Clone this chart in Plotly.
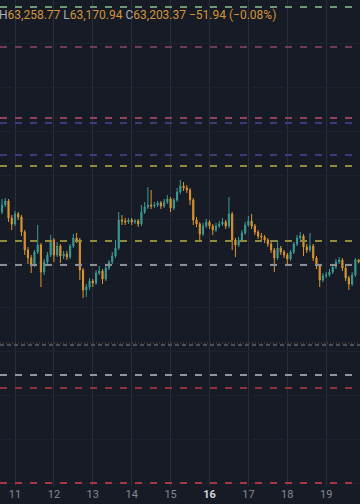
import plotly.graph_objects as go
import pandas as pd

# ---------------- data ----------------
start = pd.Timestamp("2024-09-10 14:00")
n_candles = 112
times = [start + pd.Timedelta(hours=2 * i) for i in range(n_candles)]

opens = [64300, 64450, 64625, 64725, 64300, 64150, 64400, 64325, 63950, 63500,
         63300, 63150, 63450, 63625, 62950, 63200, 63375, 63750, 63375, 63600,
         63350, 63400, 63325, 63600, 63800, 63750, 63000, 62500, 62575, 62725,
         62675, 62925, 62975, 62775, 63050, 63200, 63350, 63550, 64250, 64225,
         64200, 64250, 64200, 64225, 64150, 64450, 64575, 64625, 64600, 64625,
         64675, 64600, 64700, 64775, 64550, 64750, 64950, 65100, 65050, 65000,
         64750, 64250, 64150, 63900, 64100, 64200, 64100, 64000, 64100, 64150,
         64200, 64100, 64400, 63750, 63625, 63750, 63925, 64125, 64225, 64100,
         63950, 63850, 63825, 63750, 63650, 63500, 63300, 63550, 63450, 63375,
         63275, 63450, 63650, 63800, 63850, 63575, 63500, 63600, 63300, 63100,
         62750, 62850, 62875, 62950, 63075, 63200, 63250, 63050, 62800, 62650,
         62875, 63255.31]
closes = [64450, 64625, 64725, 64300, 64150, 64400, 64325, 63950, 63500, 63300,
          63150, 63450, 63625, 62950, 63200, 63375, 63750, 63375, 63600, 63350,
          63400, 63325, 63600, 63800, 63750, 63000, 62500, 62575, 62725, 62675,
          62925, 62975, 62775, 63050, 63200, 63350, 63550, 64250, 64225, 64200,
          64250, 64200, 64225, 64150, 64450, 64575, 64625, 64600, 64625, 64675,
          64600, 64700, 64775, 64550, 64750, 64950, 65100, 65050, 65000, 64750,
          64250, 64150, 63900, 64100, 64200, 64100, 64000, 64100, 64150, 64200,
          64100, 64400, 63750, 63625, 63750, 63925, 64125, 64225, 64100, 63950,
          63850, 63825, 63750, 63650, 63500, 63300, 63550, 63450, 63375, 63275,
          63450, 63650, 63800, 63850, 63575, 63500, 63600, 63300, 63100, 62750,
          62850, 62875, 62950, 63075, 63200, 63250, 63050, 62800, 62650, 62875,
          63255.31, 63203.37]
highs = [64525, 64775, 64800, 64775, 64375, 64475, 64450, 64375, 64000, 63575,
         63375, 63500, 64125, 63675, 63275, 63450, 63875, 63800, 63700, 63650,
         63475, 63475, 63650, 63900, 63925, 63800, 63050, 62650, 62800, 62775,
         63000, 63100, 63025, 63100, 63250, 63450, 63750, 64450, 64375, 64300,
         64300, 64300, 64275, 64275, 64625, 64700, 65075, 65000, 64700, 64725,
         64725, 64775, 64875, 64825, 64800, 65050, 65250, 65200, 65125, 65050,
         64800, 64325, 64200, 64175, 64275, 64250, 64150, 64175, 64225, 64300,
         64250, 64825, 64450, 63800, 63825, 64000, 64200, 64350, 64400, 64150,
         64000, 63925, 63875, 63800, 63700, 63550, 63750, 63600, 63500, 63425,
         63500, 63700, 63875, 63950, 63900, 63650, 63925, 63650, 63350, 63150,
         62925, 62950, 63025, 63125, 63275, 63325, 63300, 63100, 62850, 62950,
         63300, 63258.77]
lows = [64225, 64400, 64575, 64200, 64000, 64100, 64250, 63850, 63375, 63150,
        62925, 63075, 63400, 62575, 62875, 63125, 63325, 63200, 63325, 63175,
        63275, 63250, 63275, 63550, 63675, 62750, 62300, 62325, 62500, 62575,
        62625, 62875, 62650, 62725, 63000, 63150, 63300, 63500, 64125, 64125,
        64150, 64125, 64150, 64075, 64100, 64400, 64525, 64525, 64550, 64575,
        64525, 64550, 64650, 64450, 64500, 64700, 64900, 64975, 64925, 64625,
        64125, 64075, 63750, 63850, 64050, 64025, 63875, 63950, 64050, 64100,
        64025, 64050, 63500, 63325, 63575, 63700, 63875, 64075, 64025, 63875,
        63775, 63750, 63675, 63575, 63425, 62950, 63250, 63375, 63300, 63125,
        63225, 63400, 63600, 63750, 63350, 63425, 63450, 63225, 63025, 62575,
        62700, 62800, 62825, 62900, 63025, 63150, 62975, 62725, 62500, 62600,
        62825, 63170.94]

level_prices = [69575, 68575, 66800, 66675, 65875, 65600, 63725, 63125,
                61175, 61125, 60375, 60050, 57675]

day_labels = ["11", "12", "13", "14", "15", "16", "17", "18", "19"]
day_ticks = [pd.Timestamp(f"2024-09-{d}") for d in day_labels]

# ---------------- style ----------------
BG = "#171b26"
UP = "#3a9a93"
DOWN = "#d9952f"
DASH = "7px,8px"
level_styles = [
    dict(color="#6e9a78", width=2, dash=DASH),
    dict(color="#6c3d55", width=2, dash=DASH),
    dict(color="#8f4258", width=2, dash=DASH),
    dict(color="#43387a", width=2, dash=DASH),
    dict(color="#43387a", width=2, dash=DASH),
    dict(color="#8f8a3e", width=2, dash=DASH),
    dict(color="#8f8a3e", width=2, dash=DASH),
    dict(color="#8c8f98", width=2, dash=DASH),
    dict(color="#5e4e35", width=1, dash="1px,2px"),
    dict(color="#4a4e59", width=2, dash="4px,3px"),
    dict(color="#92959d", width=2, dash=DASH),
    dict(color="#8e323b", width=2, dash=DASH),
    dict(color="#a6363f", width=2, dash=DASH),
]

fig = go.Figure()
fig.add_trace(go.Candlestick(
    x=times, open=opens, high=highs, low=lows, close=closes,
    increasing=dict(line=dict(color=UP, width=1), fillcolor=UP),
    decreasing=dict(line=dict(color=DOWN, width=1), fillcolor=DOWN),
    showlegend=False, hoverinfo="skip",
))

for p, st in zip(level_prices, level_styles):
    fig.add_shape(type="line", xref="paper", x0=0, x1=1, yref="y", y0=p, y1=p,
                  line=st, layer="above")

ticktext = []
for d in day_labels:
    if d == "16":
        ticktext.append("<span style='color:#d1d4dc'><b>16</b></span>")
    else:
        ticktext.append(d)

x_start = pd.Timestamp("2024-09-11") - pd.Timedelta(hours=9.255)
x_end = pd.Timestamp("2024-09-11") + pd.Timedelta(hours=8.869 * 24)

fig.update_layout(
    width=360, height=504,
    margin=dict(l=0, r=0, t=0, b=18),
    paper_bgcolor=BG, plot_bgcolor=BG,
    boxgap=0.5,
    font=dict(family="Roboto, Liberation Sans, sans-serif", color="#848893", size=11),
    xaxis=dict(
        range=[x_start, x_end], rangeslider=dict(visible=False),
        tickmode="array", tickvals=day_ticks, ticktext=ticktext,
        showgrid=True, gridcolor="#2a2e3a", gridwidth=1,
        showline=False, zeroline=False, ticks="", ticklen=0,
        tickfont=dict(size=11, color="#848893"),
    ),
    yaxis=dict(
        range=[57600, 69750], showticklabels=False,
        tickmode="linear", tick0=66475, dtick=1100,
        showgrid=True, gridcolor="#1e222e", gridwidth=1,
        zeroline=False, showline=False, ticks="",
    ),
    annotations=[dict(
        xref="paper", yref="paper", x=0, y=1, xanchor="left", yanchor="top",
        xshift=-3, yshift=-6, showarrow=False,
        font=dict(size=12, color="#d3953a", family="Roboto, Liberation Sans, sans-serif"),
        text=("<span style='color:#a9acb5'>H</span>63,258.77 "
              "<span style='color:#a9acb5'>L</span>63,170.94 "
              "<span style='color:#a9acb5'>C</span>63,203.37 "
              "−51.94 (−0.08%)"),
    )],
)

fig.write_html("out.html")
